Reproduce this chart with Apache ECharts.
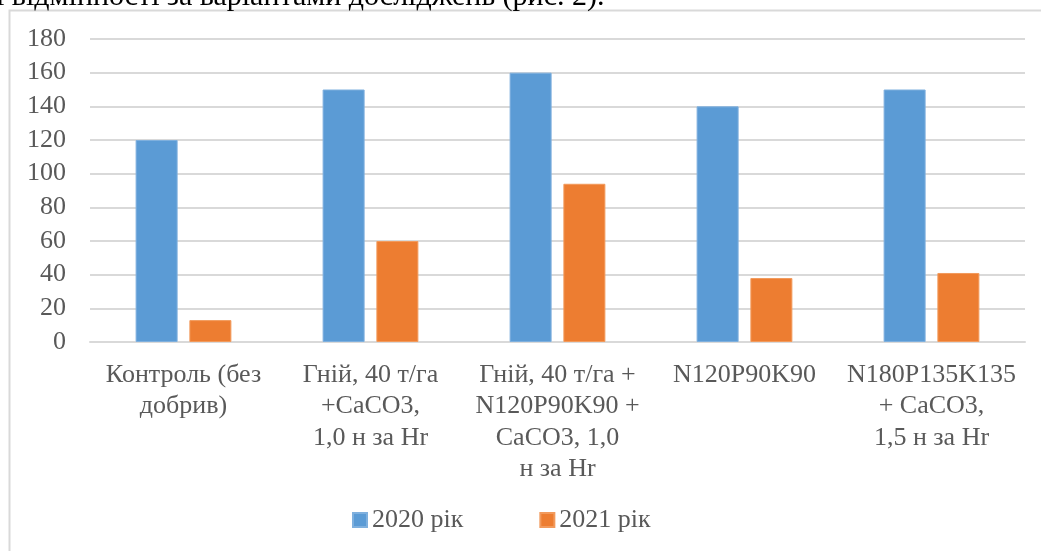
<!DOCTYPE html>
<html>
<head>
<meta charset="utf-8">
<script src="https://cdn.jsdelivr.net/npm/echarts@6/dist/echarts.min.js"></script>
<style>
html,body{margin:0;padding:0;background:#fff;}
#chart{width:1041px;height:551px;}
</style>
</head>
<body>
<div id="chart"></div>
<script>
const categories = [
  "Контроль (без\nдобрив)",
  "Гній, 40 т/га\n+CaCO3,\n1,0 н за Hr",
  "Гній, 40 т/га +\nN120P90K90 +\nCaCO3, 1,0\nн за Hr",
  "N120P90K90",
  "N180P135K135\n+ CaCO3,\n1,5 н за Hr"
];
const seriesNames = ["2020 рік", "2021 рік"];
const values2020 = [120, 150, 160, 140, 150];
const values2021 = [13, 60, 94, 38, 41];
const yTicks = { min: 0, max: 180, interval: 20 };
const captionText = "і відмінності за варіантами досліджень (рис. 2).";

const serif = "'Liberation Serif', 'Times New Roman', serif";
const chart = echarts.init(document.getElementById('chart'), null, {renderer: 'canvas'});
chart.setOption({
  backgroundColor: '#ffffff',
  animation: false,
  color: ['#5B9BD5', '#ED7D31'],
  graphic: [
    {
      type: 'rect', z: 0, silent: true,
      shape: { x: 9.5, y: 10.5, width: 1200, height: 800 },
      style: { fill: 'none', stroke: '#d9d9d9', lineWidth: 2 }
    },
    {
      type: 'text', z: 10, silent: true, x: -4, y: -3,
      style: { text: captionText, fill: '#000000', font: "30px " + serif, verticalAlign: 'middle', align: 'left' }
    }
  ],
  grid: { left: 90, right: 16, top: 39, height: 303, containLabel: false },
  legend: {
    data: seriesNames,
    left: 352, top: 507, padding: 0,
    icon: 'rect', itemWidth: 14, itemHeight: 14, itemGap: 76,
    textStyle: { fontFamily: serif, fontSize: 26, color: '#595959', lineHeight: 26 },
    selectedMode: false
  },
  xAxis: {
    type: 'category',
    data: categories,
    axisLine: { show: true, lineStyle: { color: '#d9d9d9', width: 2 } },
    axisTick: { show: false },
    axisLabel: { interval: 0, fontFamily: serif, fontSize: 26, color: '#595959', lineHeight: 31.5, margin: 17, align: 'center', verticalAlign: 'top' }
  },
  yAxis: {
    type: 'value',
    min: yTicks.min, max: yTicks.max, interval: yTicks.interval,
    axisLine: { show: false },
    axisTick: { show: false },
    splitLine: { lineStyle: { color: '#d9d9d9', width: 2 } },
    axisLabel: { fontFamily: serif, fontSize: 26, color: '#595959', margin: 24 }
  },
  series: [
    { name: seriesNames[0], type: 'bar', data: values2020, barWidth: 42, barGap: '28%',
      itemStyle: { color: '#5B9BD5', borderColor: '#7fb0de', borderWidth: 1 } },
    { name: seriesNames[1], type: 'bar', data: values2021, barWidth: 42, barGap: '28%',
      itemStyle: { color: '#ED7D31', borderColor: '#f29a5c', borderWidth: 1 } }
  ]
});
</script>
</body>
</html>
